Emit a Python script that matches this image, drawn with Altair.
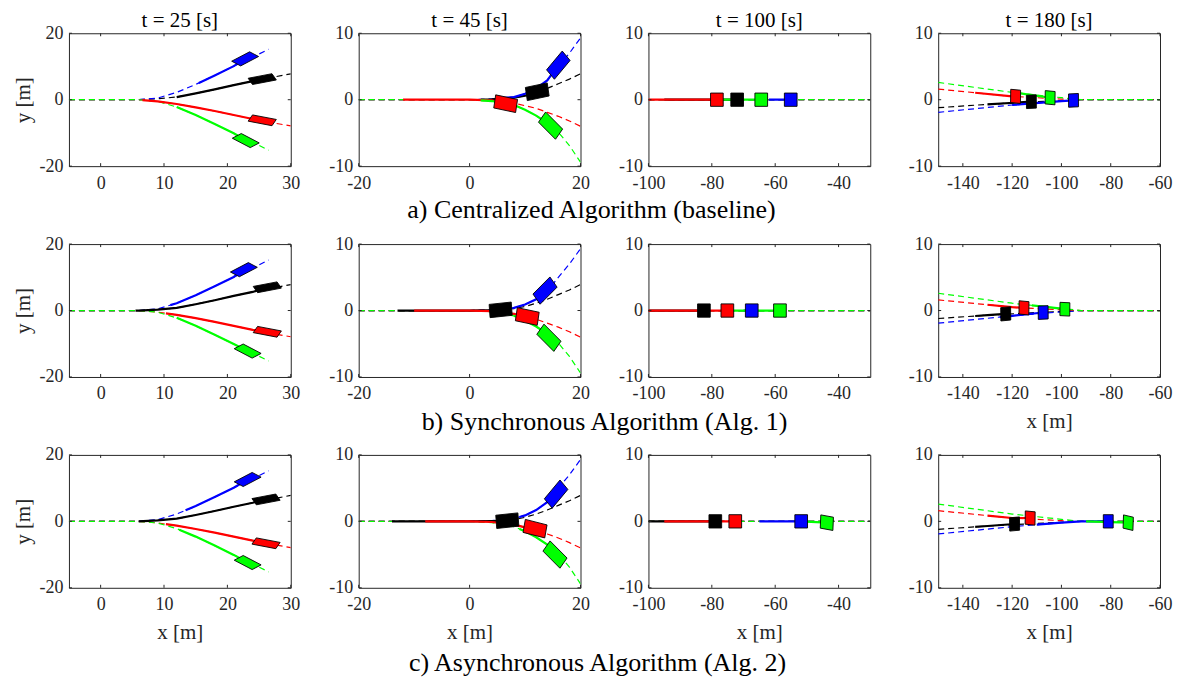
import altair as alt
import numpy as np
import pandas as pd

# ---------------- data ----------------
CARS = ["black", "blue", "red", "green"]            # drawing order
CAR_COLORS = ["#000000", "#0000ff", "#ff0000", "#00ff00"]
CAR_LEN = 4.0   # vehicle length [m]
CAR_WID = 2.0   # vehicle width [m]

TIME_TITLES = ["t = 25 [s]", "t = 45 [s]", "t = 100 [s]", "t = 180 [s]"]
CAPTIONS = ["a) Centralized Algorithm (baseline)",
            "b) Synchronous Algorithm (Alg. 1)",
            "c) Asynchronous Algorithm (Alg. 2)"]

X_DOMAINS = [[-5, 30], [-20, 20], [-100, -30], [-150, -60]]
Y_DOMAINS = [[-20, 20], [-10, 10], [-10, 10], [-10, 10]]
X_TICKS = [[0, 10, 20, 30], [-20, 0, 20], [-100, -80, -60, -40], [-140, -120, -100, -80, -60]]
Y_TICKS = [[-20, 0, 20], [-10, 0, 10], [-10, 0, 10], [-10, 0, 10]]

# planned (dashed) paths, one list per vehicle in CARS order, per column
REF_X_C1 = [[-5, 6, 9, 12, 15, 18, 21, 24, 27, 30],
            [-5, 6, 9, 12, 15, 18, 21, 24, 26.5],
            [-5, 6, 9, 12, 15, 18, 21, 24, 27, 30],
            [-5, 6, 9, 12, 15, 18, 21, 24, 26.5]]
REF_Y_C1 = [[0, 0, 0.3, 0.8, 1.9, 3.1, 4.4, 5.6, 6.7, 7.8],
            [0, 0, 0.5, 2.2, 4.6, 7.3, 10.1, 12.8, 15.2],
            [0, 0, -0.5, -1.3, -2.3, -3.4, -4.6, -5.8, -6.9, -7.9],
            [0, 0, -0.5, -2.2, -4.6, -7.3, -10.1, -12.8, -15.2]]
REF_X_C2 = [[-20, 0, 4, 8, 10, 12, 14, 16, 18, 20]] * 4
REF_Y_C2 = [[0, 0, 0.05, 0.3, 0.6, 1.1, 1.7, 2.4, 3.1, 3.9],
            [0, 0, 0.1, 0.4, 0.9, 1.7, 2.9, 5.0, 7.0, 9.3],
            [0, 0, -0.1, -0.5, -0.9, -1.3, -1.9, -2.5, -3.2, -4.0],
            [0, 0, -0.2, -0.8, -1.5, -2.4, -3.5, -4.9, -6.9, -9.4]]
REF_X_C3 = [[-100, -30]] * 4
REF_Y_C3 = [[0, 0]] * 4
REF_X_C4 = [[-150, -130, -110, -92, -60],
            [-150, -120, -100, -92, -60],
            [-150, -120, -100, -92, -60],
            [-150, -120, -100, -92, -60]]
REF_Y_C4 = [[-1.2, -0.7, -0.3, 0, 0],
            [-1.9, -0.8, -0.2, 0, 0],
            [1.6, 0.5, 0.1, 0, 0],
            [2.6, 1.1, 0.3, 0, 0]]
REF_X = [REF_X_C1, REF_X_C2, REF_X_C3, REF_X_C4]
REF_Y = [REF_Y_C1, REF_Y_C2, REF_Y_C3, REF_Y_C4]

# vehicle centre x, y, heading [deg] and start of the driven (solid) trail,
# per row (a, b, c), per column, in CARS order
CAR_X_A = [[25.5, 22.8, 25.5, 22.9], [12.2, 16.0, 6.5, 14.6], [-72.0, -55.1, -78.4, -64.4], [-112.2, -95.1, -118.6, -104.6]]
CAR_Y_A = [[6.2, 12.3, -6.2, -12.3], [1.2, 5.2, -0.6, -3.9], [0, 0, 0, 0], [-0.3, -0.1, 0.5, 0.3]]
CAR_H_A = [[20, 45, -20, -45], [10, 45, -10, -40], [0, 0, 0, 0], [1, 1, -2, -2]]
TRAIL_A = [[12, 15.5, 6.6, 12], [2, 5, -12, 2], [-95, -62, -100, -80], [-130, -120, -135, -118]]

CAR_X_B = [[26.3, 22.6, 26.3, 23.2], [5.6, 13.6, 10.4, 14.3], [-82.5, -67.4, -75.1, -58.5], [-122.6, -107.4, -115.2, -98.6]]
CAR_Y_B = [[7.0, 12.3, -6.4, -12.2], [0.1, 3.0, -0.9, -4.1], [0, 0, 0, 0], [-0.5, -0.3, 0.4, 0.2]]
CAR_H_B = [[20, 45, -20, -45], [5, 40, -10, -40], [0, 0, 0, 0], [2, 1, -2, -1]]
TRAIL_B = [[5.5, 11, 10.3, 12], [-13, 7.7, -10, 8], [-100, -70, -100, -76], [-135, -125, -130, -112]]

CAR_X_C = [[26.1, 23.2, 26.1, 23.2], [6.8, 15.6, 11.8, 15.4], [-78.9, -51.8, -72.6, -43.7], [-119.0, -81.0, -112.7, -72.9]]
CAR_Y_C = [[6.6, 12.6, -6.6, -12.4], [0.1, 4.1, -1.1, -5.0], [0, 0, 0, -0.2], [-0.4, 0, 0.5, -0.2]]
CAR_H_C = [[20, 45, -20, -45], [5, 45, -12, -40], [0, 0, 0, -5], [2, 0, -2, -5]]
TRAIL_C = [[6, 13.4, 10.3, 12.4], [-14, 9, -8, 9], [-100, -65, -95, -52], [-135, -110, -130, -90]]

CAR_X = [CAR_X_A, CAR_X_B, CAR_X_C]
CAR_Y = [CAR_Y_A, CAR_Y_B, CAR_Y_C]
CAR_H = [CAR_H_A, CAR_H_B, CAR_H_C]
TRAIL = [TRAIL_A, TRAIL_B, TRAIL_C]

# ---------------- tables ----------------
def ref_df(c, i):
    return pd.DataFrame({"car": CARS[i], "k": range(len(REF_X[c][i])),
                         "x": REF_X[c][i], "y": REF_Y[c][i]})


def trail_df(r, c, i):
    px = np.array(REF_X[c][i], dtype=float)
    py = np.array(REF_Y[c][i], dtype=float)
    s = TRAIL[r][c][i]
    cx, cy = CAR_X[r][c][i], CAR_Y[r][c][i]
    pts = [(s, float(np.interp(s, px, py)))]
    pts += [(x, y) for x, y in zip(px, py) if s < x < cx]
    pts.append((cx, cy))
    return pd.DataFrame([{"car": CARS[i], "k": k, "x": x, "y": y}
                         for k, (x, y) in enumerate(pts)])


def car_df(r, c):
    rows = []
    local = [(1, 1), (-1, 1), (-1, -1), (1, -1), (1, 1)]
    for i, car in enumerate(CARS):
        cx, cy = CAR_X[r][c][i], CAR_Y[r][c][i]
        h = np.radians(CAR_H[r][c][i])
        for k, (u, v) in enumerate(local):
            lx, ly = u * CAR_LEN / 2, v * CAR_WID / 2
            rows.append({"car": car, "k": k,
                         "x": cx + lx * np.cos(h) - ly * np.sin(h),
                         "y": cy + lx * np.sin(h) + ly * np.cos(h)})
    return pd.DataFrame(rows)


# ---------------- chart ----------------
W, H = 222, 133
FONT = "Liberation Serif"
AXC = "#262626"
TL = 3  # inward tick length
CAP_X = [233, 246, 239]
CAP_Y = [177, 178, 208]
LBL = "replace(datum.label, '\u2212', '-')"


def panel(r, c):
    xs = alt.Scale(domain=X_DOMAINS[c], nice=False, zero=False)
    ys = alt.Scale(domain=Y_DOMAINS[c], nice=False, zero=False)
    show_xt = (r == 2) or (r == 1 and c == 3)
    if show_xt:
        xa = alt.Axis(values=X_TICKS[c], title="x [m]", labelExpr=LBL)
    else:
        xa = alt.Axis(values=X_TICKS[c], title=None, labelExpr=LBL)
    if c == 0:
        ya = alt.Axis(values=Y_TICKS[c], title="y [m]", labelExpr=LBL)
    else:
        ya = alt.Axis(values=Y_TICKS[c], title=None, labelExpr=LBL)
    X = alt.X("x:Q", scale=xs, axis=xa)
    Y = alt.Y("y:Q", scale=ys, axis=ya)
    cs = alt.Scale(domain=CARS, range=CAR_COLORS)

    layers = []
    for i in range(len(CARS)):
        layers.append(alt.Chart(ref_df(c, i)).mark_line(
            strokeDash=[6, 4], strokeWidth=1.2, clip=True, color=CAR_COLORS[i]
        ).encode(X, Y, order="k:Q"))
    for i in range(len(CARS)):
        layers.append(alt.Chart(trail_df(r, c, i)).mark_line(
            strokeWidth=2.2, clip=True, color=CAR_COLORS[i]
        ).encode(X, Y, order="k:Q"))
    layers.append(alt.Chart(car_df(r, c)).mark_line(
        stroke="black", strokeWidth=0.9, clip=True
    ).encode(X, Y, fill=alt.Fill("car:N", scale=cs, legend=None),
             order="k:Q", detail="car:N"))

    xt = pd.DataFrame({"v": X_TICKS[c]})
    yt = pd.DataFrame({"v": Y_TICKS[c]})
    XV = alt.X("v:Q", scale=xs, axis=xa)
    YV = alt.Y("v:Q", scale=ys, axis=ya)
    layers += [
        alt.Chart(xt).mark_rule(color=AXC, strokeWidth=1).encode(XV, y=alt.value(H), y2=alt.value(H - TL)),
        alt.Chart(xt).mark_rule(color=AXC, strokeWidth=1).encode(XV, y=alt.value(0), y2=alt.value(TL)),
        alt.Chart(yt).mark_rule(color=AXC, strokeWidth=1).encode(YV, x=alt.value(0), x2=alt.value(TL)),
        alt.Chart(yt).mark_rule(color=AXC, strokeWidth=1).encode(YV, x=alt.value(W), x2=alt.value(W - TL)),
    ]
    if c == 1:
        layers.append(alt.Chart(pd.DataFrame({"t": [CAPTIONS[r]]})).mark_text(
            font=FONT, fontSize=26, align="center", baseline="middle", color="black"
        ).encode(x=alt.value(CAP_X[r]), y=alt.value(CAP_Y[r]), text="t:N"))
    ch = alt.layer(*layers).properties(width=W, height=H)
    if r == 0:
        ch = ch.properties(title=alt.TitleParams(
            text=TIME_TITLES[c], font=FONT, fontSize=21, fontWeight="normal",
            color="black", offset=-7, anchor="middle"))
    return ch


panels = [panel(r, c) for r in range(3) for c in range(4)]

chart = alt.concat(
    *panels, columns=4, spacing={"row": 78, "column": 68}, bounds="flush"
).properties(
    padding={"left": 4, "top": 1, "right": 0, "bottom": 0}
).configure_view(
    stroke=AXC, strokeWidth=1
).configure_axis(
    labelFont=FONT, labelFontSize=18, labelColor=AXC,
    titleFont=FONT, titleFontSize=21, titleFontWeight="normal", titleColor=AXC,
    domain=False, ticks=False, grid=False,
    labelFlush=False, labelOverlap=False
).configure_axisX(
    labelPadding=8, titlePadding=8
).configure_axisY(
    labelPadding=6, titlePadding=5
)

chart.save("out.html", embed_options={"renderer": "svg", "actions": False})
